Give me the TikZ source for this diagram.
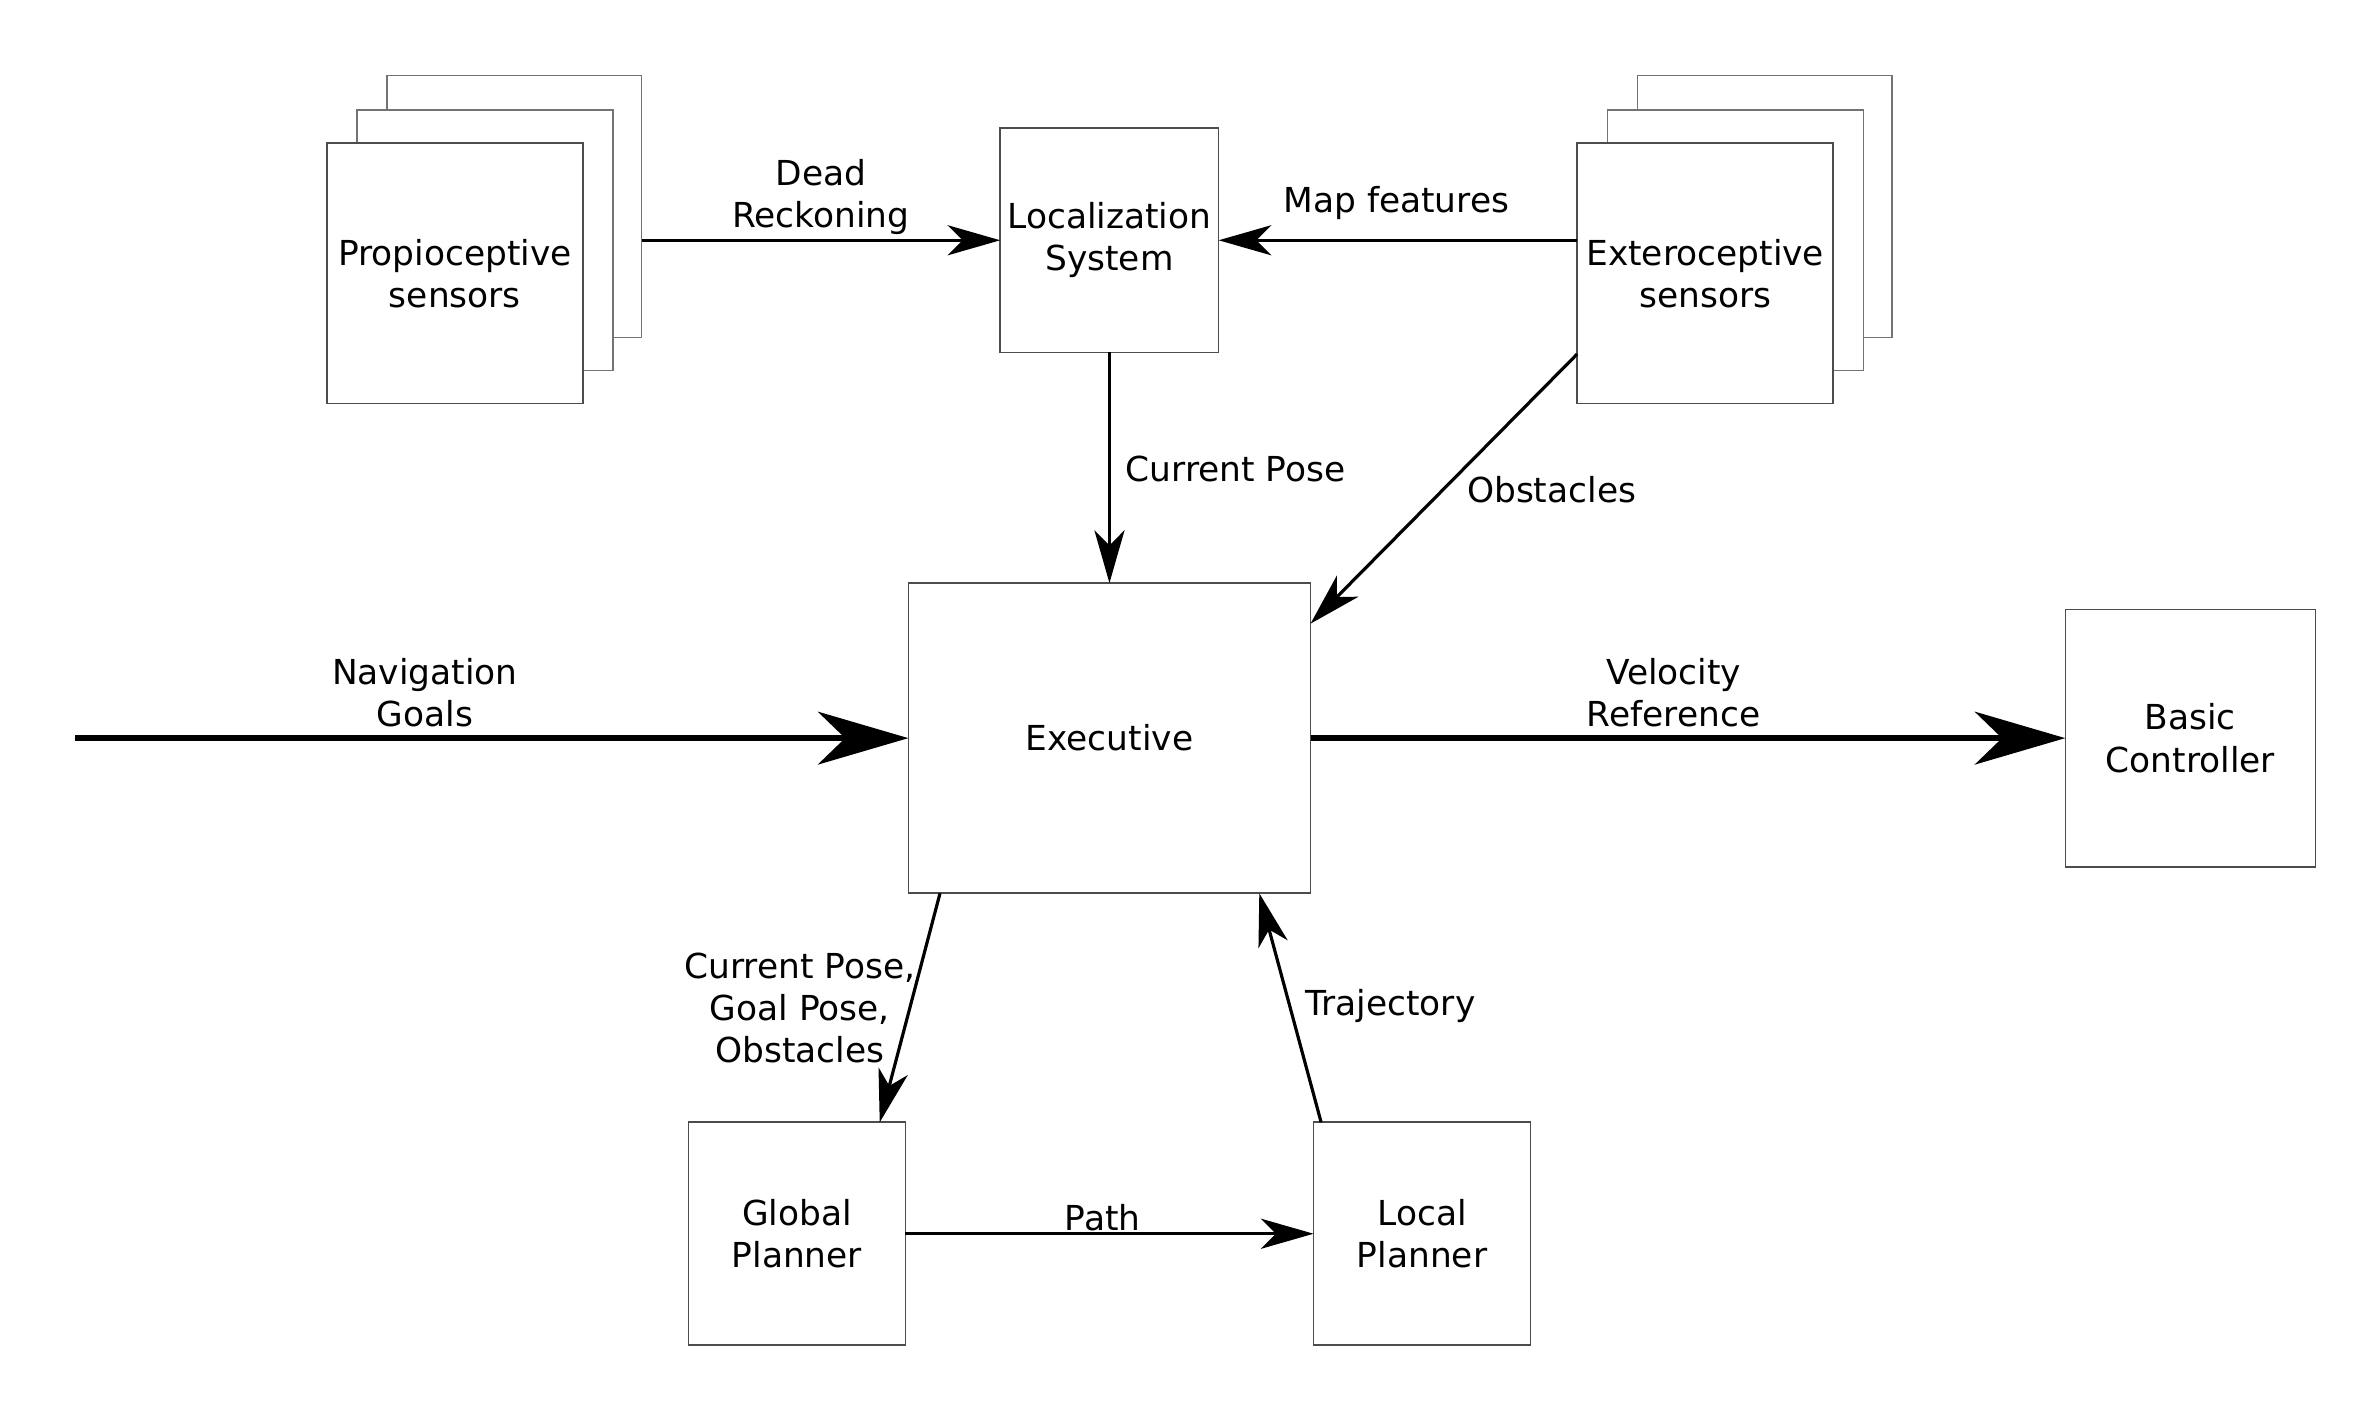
\documentclass[tikz,border=0pt]{standalone}
\usepackage{fontspec}
\setmainfont{DejaVu Sans}
\usetikzlibrary{arrows.meta,calc}
\newcommand\lblfont{\fontsize{13pt}{15.9pt}\selectfont}
\begin{document}
\begin{tikzpicture}[x=0.02cm,y=-0.02cm,
 box/.style={draw=black!70, line width=0.6pt, fill=white, inner sep=0pt, outer sep=0pt, align=center, font=\lblfont},
 backbox/.style={box, draw=black!55},
 lbl/.style={align=center, font=\lblfont, inner sep=0pt},
 thinarr/.style={line width=1.2pt, -{Stealth[length=0.7cm,width=0.4cm,inset=0.2cm]}},
 thickarr/.style={line width=2.5pt, -{Stealth[length=1.2cm,width=0.7cm,inset=0.36cm]}}]
\fill[white] (0,0) rectangle (1568,947.3);
\useasboundingbox (0,0) rectangle (1568,947.3);
% proprioceptive stack
\node[backbox, minimum width=3.38cm, minimum height=3.48cm] (p3) at (341.5,137) {};
\node[backbox, minimum width=3.4cm, minimum height=3.46cm] (p2) at (322,159.5) {};
\node[box, minimum width=3.4cm, minimum height=3.46cm] (prop) at (302,181.5) {Propioceptive\\sensors};
% exteroceptive stack
\node[backbox, minimum width=3.38cm, minimum height=3.48cm] (e3) at (1171.5,137) {};
\node[backbox, minimum width=3.4cm, minimum height=3.46cm] (e2) at (1152,159.5) {};
\node[box, minimum width=3.4cm, minimum height=3.46cm] (ext) at (1132,181.5) {Exteroceptive\\sensors};
% other boxes
\node[box, minimum width=2.9cm, minimum height=2.98cm] (loc) at (736.5,159.5) {Localization\\System};
\node[box, minimum width=5.34cm, minimum height=4.12cm] (exec) at (736.5,490) {Executive};
\node[box, minimum width=3.32cm, minimum height=3.42cm] (basic) at (1454,490) {Basic\\Controller};
\node[box, minimum width=2.88cm, minimum height=2.96cm] (glob) at (529,819) {Global\\Planner};
\node[box, minimum width=2.88cm, minimum height=2.96cm] (locp) at (944,819) {Local\\Planner};
\coordinate (navstart) at (50,490);
% connectors
\draw[thinarr] (p3.east |- loc.west) -- (loc.west);
\draw[thinarr] (ext.west |- loc.east) -- (loc.east);
\draw[thinarr] (loc.south) -- (exec.north);
\draw[thinarr] ([yshift=-1.07cm]ext.west) -- ([yshift=1.52cm]exec.east);
\draw[thickarr] (navstart) -- (exec.west);
\draw[thickarr] (exec.east) -- (basic.west);
\draw[thinarr] ([xshift=0.42cm]exec.south west) -- ([xshift=1.1cm]glob.north);
\draw[thinarr] ([xshift=0.1cm]locp.north west) -- ([xshift=1.99cm]exec.south);
\draw[thinarr] (glob.east) -- (locp.west);
% labels
\node[lbl] (ldr) at (545,131) {Dead\\Reckoning};
\node[lbl] (lmf) at (927,135) {Map features};
\node[lbl, anchor=west] (lcp) at (747,311) {Current Pose};
\node[lbl] (lob) at (1030,325) {Obstacles};
\node[lbl] (lng) at (282,460) {Navigation\\Goals};
\node[lbl] (lvr) at (1111,460) {Velocity\\Reference};
\node[lbl] (lcg) at (531,669) {Current Pose,\\Goal Pose,\\Obstacles};
\node[lbl] (ltr) at (923,668) {Trajectory};
\node[lbl] (lpa) at (732,808) {Path};
\end{tikzpicture}
\end{document}
